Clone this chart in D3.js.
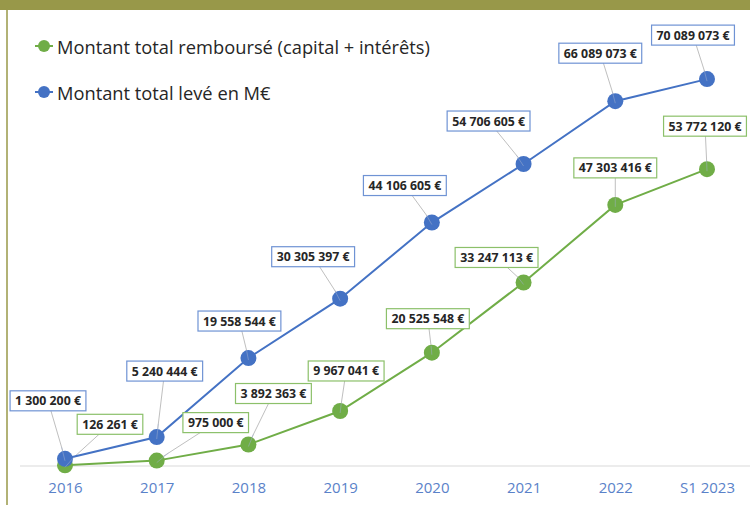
<!DOCTYPE html>
<html>
<head>
<meta charset="utf-8">
<script src="https://cdn.jsdelivr.net/npm/d3@7"></script>
<style>
  body { margin: 0; background: #fff; }
  svg { display: block; font-family: "Open Sans", sans-serif; }
</style>
</head>
<body>
<div id="chart"></div>
<script>
const periods = ["2016", "2017", "2018", "2019", "2020", "2021", "2022", "S1 2023"];
const leve = [1300200, 5240444, 19558544, 30305397, 44106605, 54706605, 66089073, 70089073];
const rembourse = [126261, 975000, 3892363, 9967041, 20525548, 33247113, 47303416, 53772120];
const seriesNames = ["Montant total remboursé (capital + intérêts)", "Montant total levé en M€"];

// label box offsets from the point (dx, dy), layout only
const leveOffsets = [[-17, -58], [8, -66], [-9, -37], [-27, -42], [-27, -37], [-35, -43], [-15, -48], [-14, -44]];
const rembOffsets = [[45, -41], [59, -38], [25, -51], [6, -40], [-4, -34], [-27, -25], [0, -37], [-2, -43]];

let width = 750, height = 505,
  margin = ({ top: 25, right: 0, bottom: 39, left: 20 });

const svg = d3.select("#chart")
  .append("svg")
  .attr("width", width)
  .attr("height", height);

// top band + left frame
svg.append("rect").attr("x", 0).attr("y", 0).attr("width", width).attr("height", 10).attr("fill", "#989849");
svg.append("line").attr("x1", 7).attr("x2", 7).attr("y1", 10).attr("y2", height)
  .attr("stroke", "#989849").attr("stroke-width", 1.5);

let x = d3.scalePoint()
  .domain(periods)
  .range([65, 707]);

let y = d3.scaleLinear()
  .domain([0, 80000000])
  .range([height - margin.bottom, height - margin.bottom - 80 * 5.52]);

// baseline
svg.append("line")
  .attr("x1", margin.left).attr("x2", width)
  .attr("y1", y(0)).attr("y2", y(0))
  .attr("stroke", "#d9d9d9").attr("stroke-width", 1);

// x axis labels
svg.append("g")
  .attr("transform", `translate(0,${y(0) + 13})`)
  .call(d3.axisBottom(x).tickSize(0))
  .call(g => g.select(".domain").remove())
  .selectAll(".tick text")
  .attr("font-family", "'Open Sans', sans-serif")
  .attr("font-size", 15)
  .attr("fill", "#5a82c9");

const fr = d3.formatLocale({ decimal: ",", thousands: " ", grouping: [3], currency: ["", " €"] });
const fmt = v => fr.format(",")(v) + " €";

let line = d3.line()
  .x((d, i) => x(periods[i]))
  .y(d => y(d));

const series = [
  { values: rembourse, offsets: rembOffsets, color: "#70ad47", box: "#8cc06a" },
  { values: leve, offsets: leveOffsets, color: "#4472c4", box: "#6f93d4" }
];

// leader lines first so they sit under the markers
for (let s of series) {
  s.values.forEach((v, i) => {
    svg.append("line")
      .attr("x1", x(periods[i])).attr("y1", y(v))
      .attr("x2", x(periods[i]) + s.offsets[i][0]).attr("y2", y(v) + s.offsets[i][1])
      .attr("stroke", "#bfbfbf").attr("stroke-width", 1);
  });
}

for (let s of series) {
  svg.append("path")
    .datum(s.values)
    .attr("fill", "none")
    .attr("stroke", s.color)
    .attr("stroke-width", 2)
    .attr("d", line);

  svg.append("g")
    .selectAll("circle")
    .data(s.values)
    .join("circle")
    .attr("cx", (d, i) => x(periods[i]))
    .attr("cy", d => y(d))
    .attr("r", 8)
    .attr("fill", s.color);
}

// leader lines drawn again lightly on top of markers (as in the original)
for (let s of series) {
  s.values.forEach((v, i) => {
    svg.append("line")
      .attr("x1", x(periods[i])).attr("y1", y(v) + 2)
      .attr("x2", x(periods[i]) + s.offsets[i][0] * 0.2).attr("y2", y(v) + s.offsets[i][1] * 0.2)
      .attr("stroke", "#9fb0d0").attr("stroke-opacity", 0.5).attr("stroke-width", 1);
  });
}

// data labels
for (let s of series) {
  s.values.forEach((v, i) => {
    let cx = x(periods[i]) + s.offsets[i][0],
      cy = y(v) + s.offsets[i][1];
    let g = svg.append("g");
    let rect = g.append("rect")
      .attr("fill", "#fff")
      .attr("stroke", s.box)
      .attr("stroke-width", 1.2);
    let t = g.append("text")
      .attr("x", cx).attr("y", cy)
      .attr("text-anchor", "middle")
      .attr("dominant-baseline", "central")
      .attr("font-size", 12.3)
      .attr("font-weight", "bold")
      .attr("fill", "#262626")
      .text(fmt(v));
    let w = t.node().getComputedTextLength() + 10;
    rect.attr("x", cx - w / 2).attr("y", cy - 10).attr("width", w).attr("height", 20);
  });
}

// legend
const legendColors = ["#70ad47", "#4472c4"];
seriesNames.forEach((name, i) => {
  let ly = 46 + i * 46;
  svg.append("line").attr("x1", 35).attr("x2", 53).attr("y1", ly).attr("y2", ly)
    .attr("stroke", legendColors[i]).attr("stroke-width", 2);
  svg.append("circle").attr("cx", 44).attr("cy", ly).attr("r", 6).attr("fill", legendColors[i]);
  svg.append("text")
    .attr("x", 57).attr("y", ly)
    .attr("dominant-baseline", "central")
    .attr("font-size", 18.3)
    .attr("fill", "#262626")
    .text(name);
});
</script>
</body>
</html>
